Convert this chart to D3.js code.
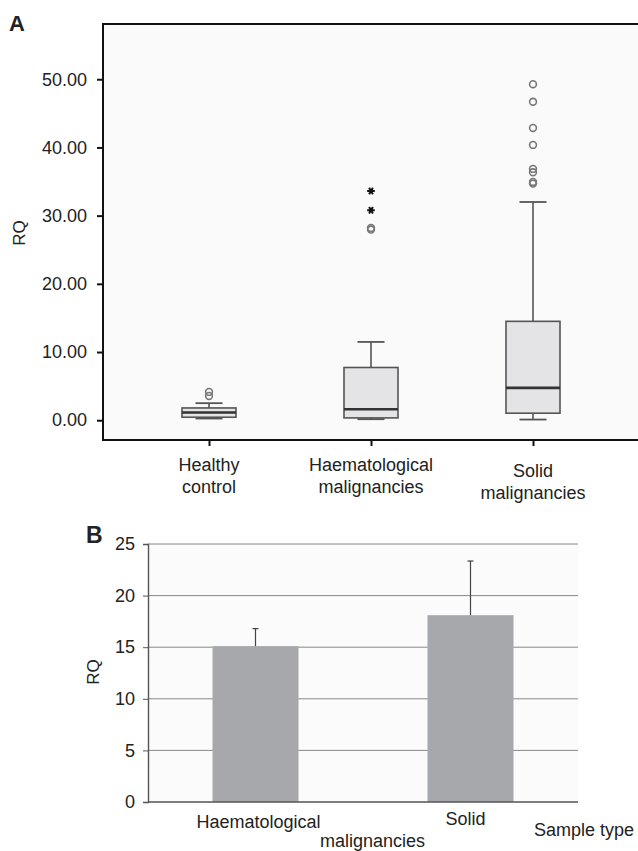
<!DOCTYPE html>
<html>
<head>
<meta charset="utf-8">
<script src="https://cdn.jsdelivr.net/npm/d3@7"></script>
<style>
  body { margin: 0; background: #fff; }
  svg text { font-family: "Liberation Sans", Arial, sans-serif; fill: #222; }
</style>
</head>
<body>
<svg id="chart" width="638" height="851"></svg>
<script>
// ====== Dados painel A (boxplot) ======
const groupsA = ["Healthy control", "Haematological malignancies", "Solid malignancies"];
const labelLinesA = [["Healthy", "control"], ["Haematological", "malignancies"], ["Solid", "malignancies"]];
const whiskerLow = [0.25, 0.15, 0.1];
const q1 = [0.44, 0.34, 1.03];
const median = [1.13, 1.61, 4.74];
const q3 = [1.8, 7.73, 14.5];
const whiskerHigh = [2.5, 11.48, 32.0];
const outliers = [[3.56, 4.15], [27.96, 28.2], [34.7, 34.94, 36.36, 36.85, 40.37, 42.86, 46.7, 49.27]];
const extremes = [[], [30.8, 33.6], []];
const ticksA = [0, 10, 20, 30, 40, 50];

// ====== Dados painel B (barras) ======
const groupsB = ["Haematological malignancies", "Solid"];
const meansB = [15.1, 18.1];
const errB = [1.7, 5.25];
const ticksB = [0, 5, 10, 15, 20, 25];

const svg = d3.select("#chart");

// ====== Painel A ======
const yA = d3.scaleLinear().domain([-2.9, 58.1]).range([440, 24]);
const xA = d3.scalePoint().domain(groupsA).range([209, 533]);
const boxW = 54, capW = 27;

// fundo + moldura
svg.append("rect")
  .attr("x", 103).attr("y", 24).attr("width", 600).attr("height", 416)
  .attr("fill", "#fafafa").attr("stroke", "#111").attr("stroke-width", 2);

svg.append("g")
  .attr("transform", "translate(103,0)")
  .call(d3.axisLeft(yA).tickValues(ticksA).tickFormat(d3.format(".2f")).tickSize(6).tickPadding(10))
  .call(g => g.select(".domain").remove())
  .call(g => g.selectAll("line").attr("stroke", "#111").attr("stroke-width", 2))
  .call(g => g.selectAll("text").style("font-size", "18px").attr("fill", "#222"));

svg.append("g")
  .attr("transform", "translate(0,440)")
  .call(d3.axisBottom(xA).tickSize(6).tickFormat(""))
  .call(g => g.select(".domain").remove())
  .call(g => g.selectAll("line").attr("stroke", "#111").attr("stroke-width", 2));

// rotulos do eixo x
groupsA.forEach((g, i) => {
  const t = svg.append("text")
    .attr("text-anchor", "middle")
    .style("font-size", "18px");
  labelLinesA[i].forEach((line, j) => {
    t.append("tspan")
      .attr("x", xA(g))
      .attr("y", (i === 2 ? 477 : 471) + j * 22)
      .text(line);
  });
});

svg.append("text")
  .attr("transform", "translate(25,233) rotate(-90)")
  .attr("text-anchor", "middle")
  .style("font-size", "17px")
  .text("RQ");

svg.append("text")
  .attr("x", 9).attr("y", 31)
  .style("font-size", "22px").style("font-weight", "bold")
  .attr("fill", "#111")
  .text("A");

// caixas
const boxes = svg.append("g")
  .selectAll("g")
  .data(groupsA)
  .enter()
  .append("g");

boxes.append("line")
  .attr("x1", d => xA(d)).attr("x2", d => xA(d))
  .attr("y1", (d, i) => yA(whiskerHigh[i])).attr("y2", (d, i) => yA(q3[i]))
  .attr("stroke", "#555").attr("stroke-width", 1.6);

boxes.append("line")
  .attr("x1", d => xA(d)).attr("x2", d => xA(d))
  .attr("y1", (d, i) => yA(q1[i])).attr("y2", (d, i) => yA(whiskerLow[i]))
  .attr("stroke", "#555").attr("stroke-width", 1.6);

boxes.append("line")
  .attr("x1", d => xA(d) - capW / 2).attr("x2", d => xA(d) + capW / 2)
  .attr("y1", (d, i) => yA(whiskerHigh[i])).attr("y2", (d, i) => yA(whiskerHigh[i]))
  .attr("stroke", "#555").attr("stroke-width", 1.8);

boxes.append("line")
  .attr("x1", d => xA(d) - capW / 2).attr("x2", d => xA(d) + capW / 2)
  .attr("y1", (d, i) => yA(whiskerLow[i])).attr("y2", (d, i) => yA(whiskerLow[i]))
  .attr("stroke", "#555").attr("stroke-width", 1.8);

boxes.append("rect")
  .attr("x", d => xA(d) - boxW / 2)
  .attr("y", (d, i) => yA(q3[i]))
  .attr("width", boxW)
  .attr("height", (d, i) => yA(q1[i]) - yA(q3[i]))
  .attr("fill", "#e4e4e6").attr("stroke", "#555").attr("stroke-width", 1.6);

boxes.append("line")
  .attr("x1", d => xA(d) - boxW / 2).attr("x2", d => xA(d) + boxW / 2)
  .attr("y1", (d, i) => yA(median[i])).attr("y2", (d, i) => yA(median[i]))
  .attr("stroke", "#333").attr("stroke-width", 2.6);

// outliers (circulos)
boxes.selectAll("circle")
  .data((d, i) => outliers[i].map(v => ({ g: d, v })))
  .enter()
  .append("circle")
  .attr("cx", d => xA(d.g))
  .attr("cy", d => yA(d.v))
  .attr("r", 3.4)
  .attr("fill", "none").attr("stroke", "#777").attr("stroke-width", 1.6);

// extremos (asteriscos) como simbolos
const star = d3.symbol().type(d3.symbolAsterisk).size(40);
boxes.selectAll("path.ext")
  .data((d, i) => extremes[i].map(v => ({ g: d, v })))
  .enter()
  .append("path")
  .attr("class", "ext")
  .attr("d", star)
  .attr("transform", d => `translate(${xA(d.g)},${yA(d.v)}) rotate(90)`)
  .attr("fill", "none").attr("stroke", "#111").attr("stroke-width", 2);

// ====== Painel B ======
const yB = d3.scaleLinear().domain([0, 25]).range([802, 544]);
const xB = d3.scaleBand().domain(groupsB).range([148, 578]).paddingInner(0.6).paddingOuter(0.3);

svg.append("rect")
  .attr("x", 148).attr("y", 544).attr("width", 430).attr("height", 258)
  .attr("fill", "#fbfbfb");

// linhas de grade
svg.append("g")
  .selectAll("line")
  .data(ticksB.filter(d => d > 0))
  .enter()
  .append("line")
  .attr("x1", 148).attr("x2", 578)
  .attr("y1", d => yB(d)).attr("y2", d => yB(d))
  .attr("stroke", "#888").attr("stroke-width", 1);

svg.append("g")
  .attr("transform", "translate(148,0)")
  .call(d3.axisLeft(yB).tickValues(ticksB).tickSize(5).tickPadding(8))
  .call(g => g.select(".domain").attr("stroke", "#555").attr("stroke-width", 1.4))
  .call(g => g.selectAll("line").attr("stroke", "#555"))
  .call(g => g.selectAll("text").style("font-size", "18px").attr("fill", "#222"));

// barras
svg.append("g")
  .selectAll("rect")
  .data(groupsB)
  .enter()
  .append("rect")
  .attr("x", d => xB(d))
  .attr("y", (d, i) => yB(meansB[i]))
  .attr("width", xB.bandwidth())
  .attr("height", (d, i) => yB(0) - yB(meansB[i]))
  .attr("fill", "#a7a8ab");

// barras de erro
const err = svg.append("g")
  .selectAll("g")
  .data(groupsB)
  .enter()
  .append("g");

err.append("line")
  .attr("x1", d => xB(d) + xB.bandwidth() / 2).attr("x2", d => xB(d) + xB.bandwidth() / 2)
  .attr("y1", (d, i) => yB(meansB[i])).attr("y2", (d, i) => yB(meansB[i] + errB[i]))
  .attr("stroke", "#444").attr("stroke-width", 1.2);

err.append("line")
  .attr("x1", d => xB(d) + xB.bandwidth() / 2 - 3).attr("x2", d => xB(d) + xB.bandwidth() / 2 + 3)
  .attr("y1", (d, i) => yB(meansB[i] + errB[i])).attr("y2", (d, i) => yB(meansB[i] + errB[i]))
  .attr("stroke", "#444").attr("stroke-width", 1.2);

// eixo x
svg.append("line")
  .attr("x1", 148).attr("x2", 578).attr("y1", yB(0)).attr("y2", yB(0))
  .attr("stroke", "#555").attr("stroke-width", 1.4);

const cB0 = xB(groupsB[0]) + xB.bandwidth() / 2;
const cB1 = xB(groupsB[1]) + xB.bandwidth() / 2;
svg.append("text").attr("x", cB0 + 3).attr("y", 828).attr("text-anchor", "middle")
  .style("font-size", "18px").text("Haematological");
svg.append("text").attr("x", cB0 + 117).attr("y", 847).attr("text-anchor", "middle")
  .style("font-size", "18px").text("malignancies");
svg.append("text").attr("x", cB1 - 5).attr("y", 825).attr("text-anchor", "middle")
  .style("font-size", "18px").text("Solid");
svg.append("text").attr("x", 534).attr("y", 836)
  .style("font-size", "18px").text("Sample type");

svg.append("text")
  .attr("transform", "translate(99,672) rotate(-90)")
  .attr("text-anchor", "middle")
  .style("font-size", "17px")
  .text("RQ");

svg.append("text")
  .attr("x", 86).attr("y", 543)
  .style("font-size", "23px").style("font-weight", "bold")
  .attr("fill", "#111")
  .text("B");
</script>
</body>
</html>
